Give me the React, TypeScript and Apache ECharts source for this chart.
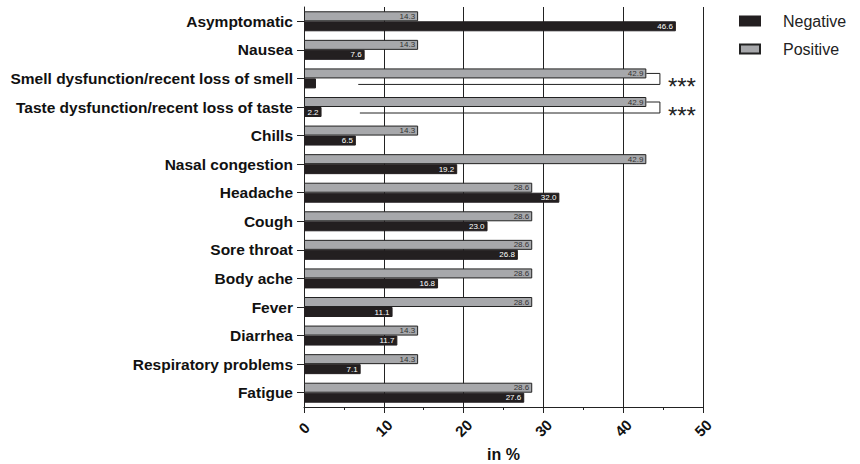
import React, { useEffect, useRef } from "react";
import * as echarts from "echarts";

const categories = [
  "Asymptomatic",
  "Nausea",
  "Smell dysfunction/recent loss of smell",
  "Taste dysfunction/recent loss of taste",
  "Chills",
  "Nasal congestion",
  "Headache",
  "Cough",
  "Sore throat",
  "Body ache",
  "Fever",
  "Diarrhea",
  "Respiratory problems",
  "Fatigue",
];
const positiveValues = [14.3, 14.3, 42.9, 42.9, 14.3, 42.9, 28.6, 28.6, 28.6, 28.6, 28.6, 14.3, 14.3, 28.6];
const negativeValues = [46.6, 7.6, 1.5, 2.2, 6.5, 19.2, 32.0, 23.0, 26.8, 16.8, 11.1, 11.7, 7.1, 27.6];
const hiddenLabelIdx = [2];
const xTicks = [0, 10, 20, 30, 40, 50];
// significance brackets: category index, bracket right value, bracket left end value
const brackets = [
  { idx: 2, right: 44.6, leftEnd: 6.8, text: "***" },
  { idx: 3, right: 44.6, leftEnd: 7.0, text: "***" },
];

const FONT = '"Liberation Sans", Arial, Helvetica, sans-serif';

export default function App() {
  const ref = useRef<HTMLDivElement>(null);
  useEffect(() => {
    if (!ref.current) return;
    const chart = echarts.init(ref.current, undefined, { renderer: "svg" });
    const option: any = {
      animation: false,
      textStyle: { fontFamily: FONT },
      legend: {
        data: ["Negative", "Positive"],
        orient: "vertical",
        left: 734,
        top: 8,
        icon: "rect",
        itemWidth: 20,
        itemHeight: 9,
        itemGap: 12,
        textStyle: { fontSize: 16, color: "#222", fontFamily: FONT, padding: [0, 0, 0, 18] },
      },
      grid: {
        left: 304,
        top: 7,
        width: 399,
        height: 400,
        containLabel: false,
        outerBoundsMode: "none",
      },
      xAxis: {
        type: "value",
        min: 0,
        max: 50,
        interval: 10,
        name: "in %",
        nameLocation: "middle",
        nameGap: 32,
        nameTextStyle: { fontSize: 16, fontWeight: "bold", color: "#111", fontFamily: FONT },
        axisLine: { show: true, lineStyle: { color: "#222", width: 1 } },
        axisTick: { show: true, length: 6, lineStyle: { color: "#222" } },
        minorTick: { show: true, splitNumber: 2, length: 3, lineStyle: { color: "#222" } },
        splitLine: { show: true, lineStyle: { color: "#222", width: 1 } },
        axisLabel: {
          rotate: 45,
          fontSize: 15,
          fontWeight: "bold",
          color: "#111",
          margin: 21,
          align: "center",
          verticalAlign: "middle",
          fontFamily: FONT,
          formatter: (v: number) => (xTicks.includes(v) ? String(v) : ""),
        },
      },
      yAxis: {
        type: "category",
        data: categories,
        inverse: true,
        axisLine: { show: true, lineStyle: { color: "#222", width: 1 } },
        axisTick: { show: true, alignWithLabel: true, length: 7, lineStyle: { color: "#222" } },
        axisLabel: { fontSize: 15.5, fontWeight: "bold", color: "#111", margin: 11, fontFamily: FONT },
      },
      series: [
        {
          name: "Positive",
          type: "bar",
          data: positiveValues,
          barWidth: 10,
          barGap: "0%",
          itemStyle: { color: "#a7a8ab", borderColor: "#222", borderWidth: 1 },
          label: {
            show: true,
            position: "insideRight",
            distance: 3,
            fontSize: 8,
            color: "#333",
            fontFamily: FONT,
            formatter: (p: any) => p.value.toFixed(1),
          },
        },
        {
          name: "Negative",
          type: "bar",
          data: negativeValues,
          barWidth: 10,
          barGap: "0%",
          itemStyle: { color: "#231f20", borderColor: "#231f20", borderWidth: 1 },
          label: {
            show: true,
            position: "insideRight",
            distance: 3,
            fontSize: 8,
            color: "#fff",
            fontFamily: FONT,
            formatter: (p: any) => (hiddenLabelIdx.includes(p.dataIndex) ? "" : p.value.toFixed(1)),
          },
        },
      ],
    };
    chart.setOption(option);

    const graphics: any[] = [];
    brackets.forEach((b) => {
      const c = chart.convertToPixel({ gridIndex: 0 } as any, [0, b.idx]) as number[];
      const cy = c[1];
      const xBar = (chart.convertToPixel({ gridIndex: 0 } as any, [positiveValues[b.idx], b.idx]) as number[])[0];
      const xR = (chart.convertToPixel({ gridIndex: 0 } as any, [b.right, b.idx]) as number[])[0];
      const xL = (chart.convertToPixel({ gridIndex: 0 } as any, [b.leftEnd, b.idx]) as number[])[0];
      const yTop = cy - 5;
      const yBot = cy + 6;
      graphics.push({
        type: "polyline",
        shape: { points: [[xBar, yTop], [xR, yTop], [xR, yBot], [xL, yBot]] },
        style: { stroke: "#222", lineWidth: 1, fill: null },
        silent: true,
      });
      graphics.push({
        type: "text",
        x: xR + 8,
        y: cy + 8,
        style: {
          text: b.text,
          fontSize: 24,
          fontWeight: "normal",
          fontFamily: FONT,
          fill: "#222",
          verticalAlign: "middle",
        },
        silent: true,
      });
    });
    chart.setOption({ graphic: graphics });

    return () => chart.dispose();
  }, []);
  return (
    <div
      ref={ref}
      style={{ position: "fixed", left: 0, top: 0, width: 860, height: 464, background: "#fff" }}
    />
  );
}
